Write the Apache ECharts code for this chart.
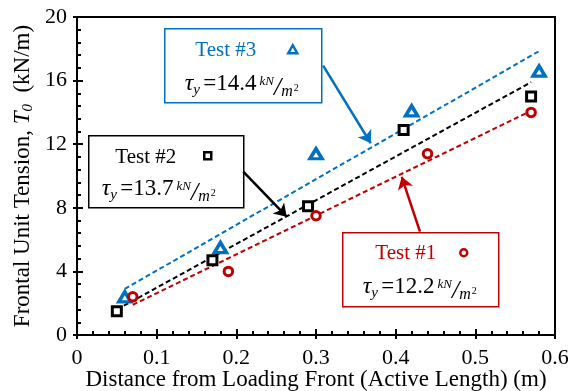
<!DOCTYPE html>
<html>
<head>
<meta charset="utf-8">
<script src="https://cdn.jsdelivr.net/npm/echarts@6/dist/echarts.min.js"></script>
<style>
  html, body { margin: 0; padding: 0; background: #fff; }
  #chart { width: 570px; height: 391px; }
</style>
</head>
<body>
<div id="chart"></div>
<script>
// Measured frontal unit tension vs. active length for three pull-out tests
const test1X = [0.07, 0.19, 0.30, 0.44, 0.57];
const test1Y = [2.4, 4.0, 7.5, 11.4, 14.0];
const test2X = [0.05, 0.17, 0.29, 0.41, 0.57];
const test2Y = [1.5, 4.7, 8.1, 12.9, 15.0];
const test3X = [0.06, 0.18, 0.30, 0.42, 0.58];
const test3Y = [2.4, 5.5, 11.4, 14.1, 16.6];

// Dashed fit lines (T0 = 2·τy·L + c), given by their end points
const fit1X = [0.07, 0.57];
const fit1Y = [1.9, 14.1];
const fit2X = [0.05, 0.57];
const fit2Y = [1.6, 15.9];
const fit3X = [0.06, 0.58];
const fit3Y = [2.9, 17.85];

// Yield shear stress of each test, kN/m²
const tauValues = ['12.2', '13.7', '14.4'];
const testNames = ['Test #1', 'Test #2', 'Test #3'];

const xTicks = [0, 0.1, 0.2, 0.3, 0.4, 0.5, 0.6];
const yTicks = [0, 4, 8, 12, 16, 20];

const FONT = '"Liberation Serif", "Times New Roman", serif';
const RED = '#C00000';
const BLACK = '#000000';
const BLUE = '#0070C0';

const pairs = (xs, ys) => xs.map((x, i) => [x, ys[i]]);

// Rich text for "τy = value kN/m²"; padding shifts the small pieces up or down
function tauRich(color) {
  const base = { fontFamily: FONT, color: color };
  return {
    tau: Object.assign({}, base, { fontStyle: 'italic', fontSize: 24, lineHeight: 32 }),
    sub: Object.assign({}, base, { fontStyle: 'italic', fontSize: 15, lineHeight: 10, padding: [12, 0, 0, 0] }),
    num: Object.assign({}, base, { fontSize: 23, lineHeight: 32 }),
    kn: Object.assign({}, base, { fontStyle: 'italic', fontSize: 13, lineHeight: 10, padding: [0, 0, 4, 3] }),
    sl: Object.assign({}, base, { fontStyle: 'italic', fontSize: 26, lineHeight: 10, padding: [8, 0, 0, 0] }),
    m: Object.assign({}, base, { fontStyle: 'italic', fontSize: 16, lineHeight: 10, padding: [16, 0, 0, 0] }),
    sq: Object.assign({}, base, { fontSize: 10, lineHeight: 10, padding: [9, 0, 0, 1] })
  };
}

function marker(kind, cx, cy, color) {
  if (kind === 'triangle') {
    return { type: 'polygon', shape: { points: [[cx, cy - 4.5], [cx + 4.5, cy + 3.5], [cx - 4.5, cy + 3.5]] },
      style: { fill: '#fff', stroke: color, lineWidth: 2.5 } };
  }
  if (kind === 'rect') {
    return { type: 'rect', shape: { x: cx - 3.5, y: cy - 3.5, width: 7, height: 7 },
      style: { fill: '#fff', stroke: color, lineWidth: 2.5 } };
  }
  return { type: 'circle', shape: { cx: cx, cy: cy, r: 3.5 },
    style: { fill: '#fff', stroke: color, lineWidth: 2.5 } };
}

function callout(box, idx, color, kind) {
  return {
    type: 'group',
    left: box.x, top: box.y,
    children: [
      { type: 'rect', shape: { x: 0, y: 0, width: box.w, height: box.h },
        style: { fill: '#fff', stroke: color, lineWidth: 1.5 } },
      { type: 'text', x: box.tx, y: box.ty,
        style: { text: testNames[idx], font: '21px ' + FONT, fill: color, align: 'center', verticalAlign: 'middle' } },
      marker(kind, box.mx, box.my, color),
      { type: 'text', x: box.lx, y: box.ly,
        style: {
          text: '{tau|τ}{sub|y} {num|=' + tauValues[idx] + '}{kn|kN}{sl|/}{m|m}{sq|2}',
          rich: tauRich('#000'), align: 'left', verticalAlign: 'middle'
        } }
    ]
  };
}

const chart = echarts.init(document.getElementById('chart'), null, { renderer: 'canvas' });

const arrowLine = (color, from, to) => ({
  silent: true,
  symbol: ['none', 'arrow'],
  symbolSize: 12,
  label: { show: false },
  lineStyle: { color: color, width: 2.5, type: 'solid' },
  emphasis: { disabled: true },
  data: [[{ coord: from }, { coord: to }]]
});

const dashed = (color) => ({ color: color, width: 2, type: [5, 3] });

const axisCommon = {
  type: 'value',
  nameMoveOverlap: false,
  axisLine: { show: true, onZero: false, lineStyle: { color: '#000', width: 2 } },
  splitLine: { show: false }
};

chart.setOption({
  animation: false,
  backgroundColor: '#fff',
  grid: { left: 77, right: 15, top: 17, bottom: 56, containLabel: false, outerBoundsMode: 'none',
    show: true, borderColor: '#000', borderWidth: 2, backgroundColor: 'transparent' },
  xAxis: [
    Object.assign({}, axisCommon, {
      min: xTicks[0], max: xTicks[xTicks.length - 1], interval: 0.1,
      name: 'Distance from Loading Front (Active Length) (m)',
      nameLocation: 'middle', nameGap: 33,
      nameTextStyle: { fontFamily: FONT, fontSize: 23, color: '#000' },
      axisTick: { show: true, inside: true, length: 6, lineStyle: { color: '#000', width: 2 } },
      minorTick: { show: true, splitNumber: 5, length: 4, lineStyle: { color: '#000', width: 2 } },
      axisLabel: { fontFamily: FONT, fontSize: 22, color: '#000', margin: 12,
        formatter: (v) => String(Math.round(v * 10) / 10) }
    }),
    Object.assign({}, axisCommon, {
      min: xTicks[0], max: xTicks[xTicks.length - 1], interval: 0.1,
      position: 'bottom', offset: 0,
      axisTick: { show: true, inside: false, length: 4, lineStyle: { color: '#000', width: 2 } },
      axisLabel: { show: false }
    })
  ],
  yAxis: [
    Object.assign({}, axisCommon, {
      min: yTicks[0], max: yTicks[yTicks.length - 1], interval: 4,
      name: '{a|Frontal Unit Tension, }{t|T}{s|0}{a|  (kN/m)}',
      nameLocation: 'middle', nameGap: 41,
      nameTextStyle: {
        fontFamily: FONT, fontSize: 23, color: '#000',
        rich: {
          a: { fontFamily: FONT, fontSize: 23, lineHeight: 26, color: '#000' },
          t: { fontFamily: FONT, fontStyle: 'italic', fontSize: 23, lineHeight: 26, color: '#000' },
          s: { fontFamily: FONT, fontStyle: 'italic', fontSize: 15, lineHeight: 10, padding: [10, 0, 0, 0], color: '#000' }
        }
      },
      axisTick: { show: true, inside: true, length: 6, lineStyle: { color: '#000', width: 2 } },
      minorTick: { show: true, splitNumber: 5, length: 4, lineStyle: { color: '#000', width: 2 } },
      axisLabel: { fontFamily: FONT, fontSize: 22, color: '#000', margin: 10 }
    }),
    Object.assign({}, axisCommon, {
      min: yTicks[0], max: yTicks[yTicks.length - 1], interval: 4,
      position: 'left', offset: 0,
      axisTick: { show: true, inside: false, length: 4, lineStyle: { color: '#000', width: 2 } },
      axisLabel: { show: false }
    })
  ],
  series: [
    { name: 'Fit #1', type: 'line', data: pairs(fit1X, fit1Y), showSymbol: false, lineStyle: dashed(RED),
      markLine: arrowLine(RED, [0.4305, 6.5], [0.4076, 9.95]) },
    { name: 'Fit #2', type: 'line', data: pairs(fit2X, fit2Y), showSymbol: false, lineStyle: dashed(BLACK),
      markLine: arrowLine(BLACK, [0.2087, 10.27], [0.2632, 7.44]) },
    { name: 'Fit #3', type: 'line', data: pairs(fit3X, fit3Y), showSymbol: false, lineStyle: dashed(BLUE),
      markLine: arrowLine(BLUE, [0.309, 16.94], [0.3687, 12.06]) },
    { name: testNames[2], type: 'scatter', data: pairs(test3X, test3Y), symbol: 'triangle', symbolSize: [12, 10],
      itemStyle: { color: '#fff', borderColor: BLUE, borderWidth: 3.5, opacity: 1 }, z: 5 },
    { name: testNames[1], type: 'scatter', data: pairs(test2X, test2Y), symbol: 'rect', symbolSize: 9,
      itemStyle: { color: '#fff', borderColor: BLACK, borderWidth: 3, opacity: 1 }, z: 5 },
    { name: testNames[0], type: 'scatter', data: pairs(test1X, test1Y), symbol: 'circle', symbolSize: 8.5,
      itemStyle: { color: '#fff', borderColor: RED, borderWidth: 3, opacity: 1 }, z: 5 }
  ],
  graphic: [
    callout({ x: 164, y: 28, w: 157, h: 74, tx: 61, ty: 22, mx: 128, my: 21, lx: 20, ly: 55 }, 2, BLUE, 'triangle'),
    callout({ x: 88, y: 135, w: 155, h: 72, tx: 57, ty: 22, mx: 119, my: 20, lx: 13, ly: 53 }, 1, BLACK, 'rect'),
    callout({ x: 342, y: 232, w: 156, h: 74, tx: 63, ty: 21, mx: 121, my: 20, lx: 20, ly: 54 }, 0, RED, 'circle')
  ]
});
</script>
</body>
</html>
